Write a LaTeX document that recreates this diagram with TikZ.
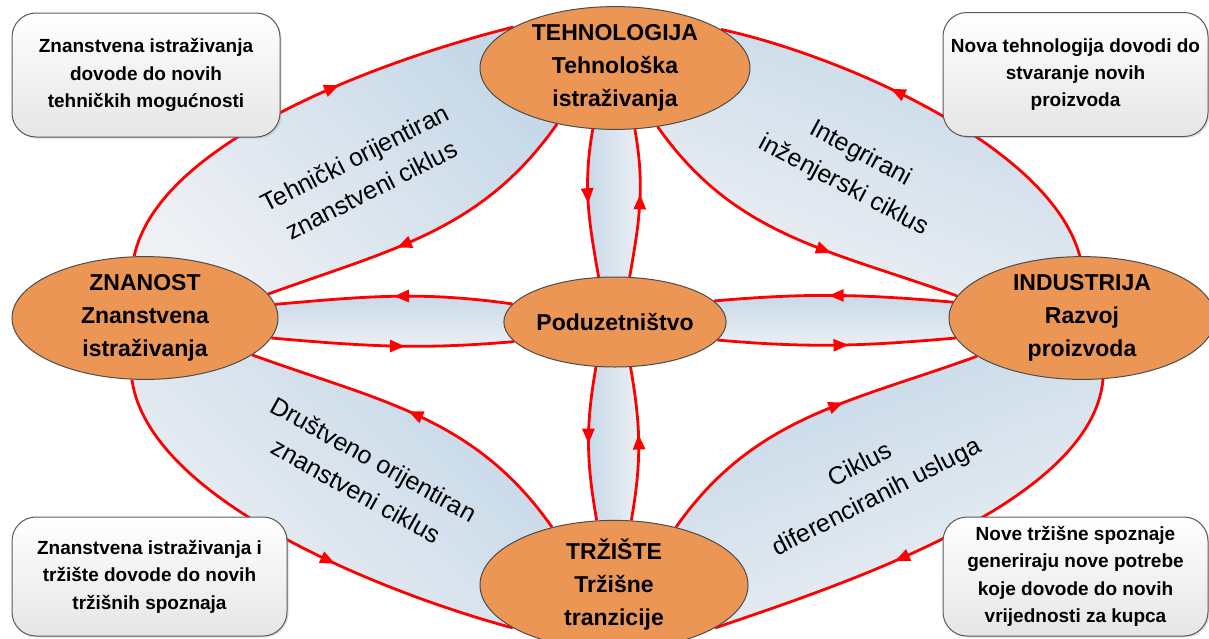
\documentclass[tikz,border=0pt]{standalone}
\usepackage{fontspec}
\setmainfont{Liberation Sans}
\usetikzlibrary{positioning,shapes.geometric,arrows.meta,decorations.markings,backgrounds,shadows}
\definecolor{fieldorange}{RGB}{235,150,85}
\definecolor{lensblue}{RGB}{197,216,232}
\definecolor{lenswhite}{RGB}{238,240,244}
\definecolor{flowred}{RGB}{255,0,0}

\begin{document}
\begin{tikzpicture}[x=0.5pt,y=0.5pt,
  every node/.style={inner sep=0pt},
  field/.style={ellipse,draw=black!70,line width=0.5pt,fill=fieldorange,align=center,
    font=\bfseries\fontsize{11.5}{16.5}\selectfont},
  note/.style={draw=black!65,line width=0.5pt,rounded corners=12pt,top color=white,bottom color=black!10,
    drop shadow={shadow xshift=0.8pt,shadow yshift=-0.8pt,opacity=0.25},
    align=center,font=\bfseries\fontsize{9.5}{13.7}\selectfont},
  cyclelabel/.style={align=center,font=\fontsize{12.5}{18}\selectfont},
  lens/.style={top color=lensblue,bottom color=lenswhite},
  flow/.style={draw=flowred,line width=1.4pt},
  arr/.style={postaction={decorate},decoration={markings,
    mark=at position #1 with {\arrow{Triangle[length=7.5pt,width=6pt]}}}},
  arr/.default=0.55]
\useasboundingbox (0,0) rectangle (1209,-638);

% fields
\node[field,minimum width=135pt,minimum height=53pt] (tech) at (615,-68) {TEHNOLOGIJA\\Tehnološka\\istraživanja};
\node[field,minimum width=100pt,minimum height=45pt] (pod) at (615,-322) {Poduzetništvo};
\node[field,minimum width=134pt,minimum height=53pt] (trz) at (614,-585) {TRŽIŠTE\\Tržišne\\tranzicije};
\node[field,minimum width=133pt,minimum height=55pt] (zna) at (145,-318) {ZNANOST\\Znanstvena\\istraživanja};
\node[field,minimum width=133pt,minimum height=55pt] (ind) at (1082,-318) {INDUSTRIJA\\Razvoj\\proizvoda};

% corner notes
\node[note,minimum width=134pt,minimum height=62pt] (noteTL) at (146,-75) {Znanstvena istraživanja\\dovode do novih\\tehničkih mogućnosti};
\node[note,minimum width=132.5pt,minimum height=62pt] (noteTR) at (1075.5,-74.5) {Nova tehnologija dovodi do\\stvaranje novih\\proizvoda};
\node[note,minimum width=137.5pt,minimum height=59.5pt] (noteBL) at (149.5,-576.5) {Znanstvena istraživanja i\\tržište dovode do novih\\tržišnih spoznaja};
\node[note,minimum width=132.5pt,minimum height=59.5pt] (noteBR) at (1075.5,-576.5) {Nove tržišne spoznaje\\generiraju nove potrebe\\koje dovode do novih\\vrijednosti za kupca};

\begin{scope}[on background layer]
% technically oriented cycle
\shade[lens,shading angle=-45] (zna.100) to[out=78,in=194,looseness=0.7] (tech.158) -- (tech.224) to[out=235,in=20] (zna.11) -- cycle;
\draw[flow,arr=0.6] (zna.100) to[out=78,in=194,looseness=0.7] (tech.158);
\draw[flow,arr=0.6] (tech.224) to[out=235,in=20] (zna.11);
% integrated engineering cycle
\shade[lens,shading angle=-20] (ind.92) to[out=105,in=-12,looseness=0.7] (tech.20) -- (tech.-54) to[out=-55,in=160] (ind.170) -- cycle;
\draw[flow,arr=0.59] (ind.92) to[out=105,in=-12,looseness=0.7] (tech.20);
\draw[flow,arr=0.62] (tech.-54) to[out=-55,in=160] (ind.170);
% socially oriented cycle
\shade[lens,shading angle=-45] (trz.137) to[out=125,in=-20] (zna.-19) -- (zna.258) to[out=-82,in=165,looseness=0.7] (trz.203) -- cycle;
\draw[flow,arr=0.53] (trz.137) to[out=125,in=-20] (zna.-19);
\draw[flow,arr=0.6] (zna.258) to[out=-82,in=165,looseness=0.7] (trz.203);
% differentiated services cycle
\shade[lens,shading angle=20] (trz.43) to[out=55,in=200] (ind.200) -- (ind.-71) to[out=-95,in=19,looseness=0.7] (trz.-23) -- cycle;
\draw[flow,arr=0.6] (trz.43) to[out=55,in=200] (ind.200);
\draw[flow,arr=0.6] (ind.-71) to[out=-95,in=19,looseness=0.7] (trz.-23);
% entrepreneurship links
\shade[lens] (pod.170) to[out=172,in=5] (zna.6) -- (zna.-9) to[out=-5,in=185] (pod.191) -- cycle;
\draw[flow,arr=0.5] (pod.170) to[out=172,in=5] (zna.6);
\draw[flow,arr=0.55] (zna.-9) to[out=-5,in=185] (pod.191);
\shade[lens] (ind.173) to[out=175,in=5] (pod.12) -- (pod.-10) to[out=-5,in=185] (ind.189) -- cycle;
\draw[flow,arr=0.52] (ind.173) to[out=175,in=5] (pod.12);
\draw[flow,arr=0.55] (pod.-10) to[out=-5,in=185] (ind.189);
\shade[lens,shading angle=90] (tech.250) to[out=-100,in=100] (pod.110) -- (pod.72) to[out=80,in=-80] (tech.-72) -- cycle;
\draw[flow,arr=0.5] (tech.250) to[out=-100,in=100] (pod.110);
\draw[flow,arr=0.56] (pod.72) to[out=80,in=-80] (tech.-72);
\shade[lens,shading angle=90] (pod.247) to[out=-100,in=100] (trz.105) -- (trz.75) to[out=80,in=-80] (pod.-71) -- cycle;
\draw[flow,arr=0.5] (pod.247) to[out=-100,in=100] (trz.105);
\draw[flow,arr=0.56] (trz.75) to[out=80,in=-80] (pod.-71);
\end{scope}

% cycle names
\node[cyclelabel,rotate=27] (techcycle) at (363,-174) {Tehnički orijentiran\\znanstveni ciklus};
\node[cyclelabel,rotate=-28] (engcycle) at (852,-170) {Integrirani\\inženjerski ciklus};
\node[cyclelabel,rotate=-29] (soccycle) at (365,-475) {Društveno orijentiran\\znanstveni ciklus};
\node[cyclelabel,rotate=27] (servcycle) at (869,-482) {Ciklus\\diferenciranih usluga};
\end{tikzpicture}
\end{document}
